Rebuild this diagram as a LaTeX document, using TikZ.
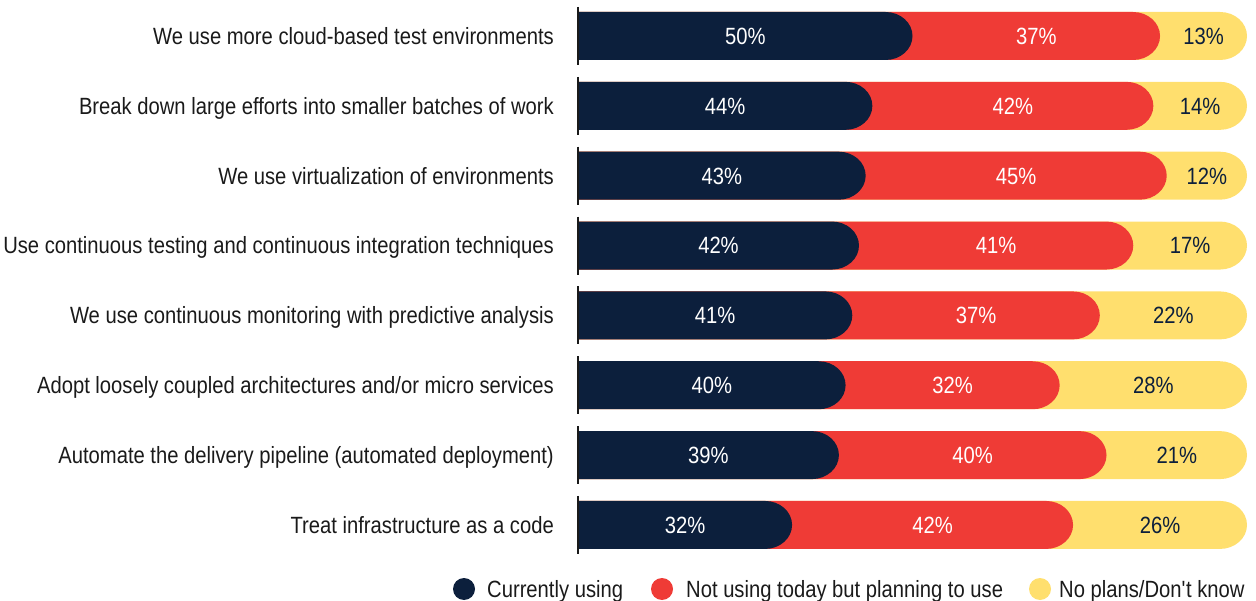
\documentclass[tikz,border=0pt]{standalone}
\usepackage{fontspec}
\setmainfont{Liberation Sans}[FakeStretch=0.86]
\usetikzlibrary{positioning}
\definecolor{navy}{HTML}{0C1F3C}
\definecolor{barred}{HTML}{EF3B36}
\definecolor{baryellow}{HTML}{FFDF6E}
\definecolor{labelgray}{HTML}{1A1A1A}
% one bar piece: colour, right end x, centre y
\newcommand{\capbar}[3]{\fill[#1] (578,#3+24) -- (#2-27,#3+24) arc[start angle=90,end angle=-90,x radius=27,y radius=24] -- (578,#3-24) -- cycle;}

\begin{document}
\begin{tikzpicture}[x=1pt,y=1pt]
\tikzstyle{every node}=[font=\fontsize{23.5}{28}\selectfont]
\tikzstyle{rowlabel}=[anchor=base east,text=labelgray,inner sep=0pt]
\tikzstyle{pct}=[anchor=base,text=white,inner sep=0pt]
\tikzstyle{legdot}=[circle,minimum size=22pt,inner sep=0pt]
\tikzstyle{legtext}=[anchor=base west,text=labelgray,inner sep=0pt]
\useasboundingbox (0,0) rectangle (1256,600);
% bars, back to front
\foreach \lbl/\a/\b/\c [count=\i] in {
  We use more cloud-based test environments/50/37/13,
  Break down large efforts into smaller batches of work/44/42/14,
  We use virtualization of environments/43/45/12,
  Use continuous testing and continuous integration techniques/42/41/17,
  We use continuous monitoring with predictive analysis/41/37/22,
  {Adopt loosely coupled architectures and/or micro services}/40/32/28,
  Automate the delivery pipeline (automated deployment)/39/40/21,
  Treat infrastructure as a code/32/42/26}{
  \pgfmathsetmacro{\yc}{564-69.85*(\i-1)}
  \pgfmathsetmacro{\yb}{\yc-8.4}
  \pgfmathsetmacro{\xa}{578+\a*6.69}
  \pgfmathsetmacro{\xb}{578+(\a+\b)*6.69}
  \capbar{baryellow}{1247}{\yc}
  \capbar{barred}{\xb}{\yc}
  \capbar{navy}{\xa}{\yc}
  \draw[line width=1.4pt,labelgray] (578,\yc+29) -- (578,\yc-29);
  \node[rowlabel] (row\i) at (554,\yb) {\lbl};
  \node[pct] (cur\i) at ({(578+\xa)/2},\yb) {\a\%};
  \node[pct] (plan\i) at ({(\xa+\xb)/2},\yb) {\b\%};
  \node[pct,text=navy] (none\i) at ({(\xb+1247)/2},\yb) {\c\%};
}
% legend
\node[legdot,fill=navy] (dotcur) at (464,11) {};
\node[legtext] (legcur) at (487,2.6) {Currently using};
\node[legdot,fill=barred] (dotplan) at (662,11) {};
\node[legtext] (legplan) at (686,2.6) {Not using today but planning to use};
\node[legdot,fill=baryellow] (dotnone) at (1040,11) {};
\node[legtext] (legnone) at (1059,2.6) {No plans/Don\textquotesingle t know};
\end{tikzpicture}
\end{document}
